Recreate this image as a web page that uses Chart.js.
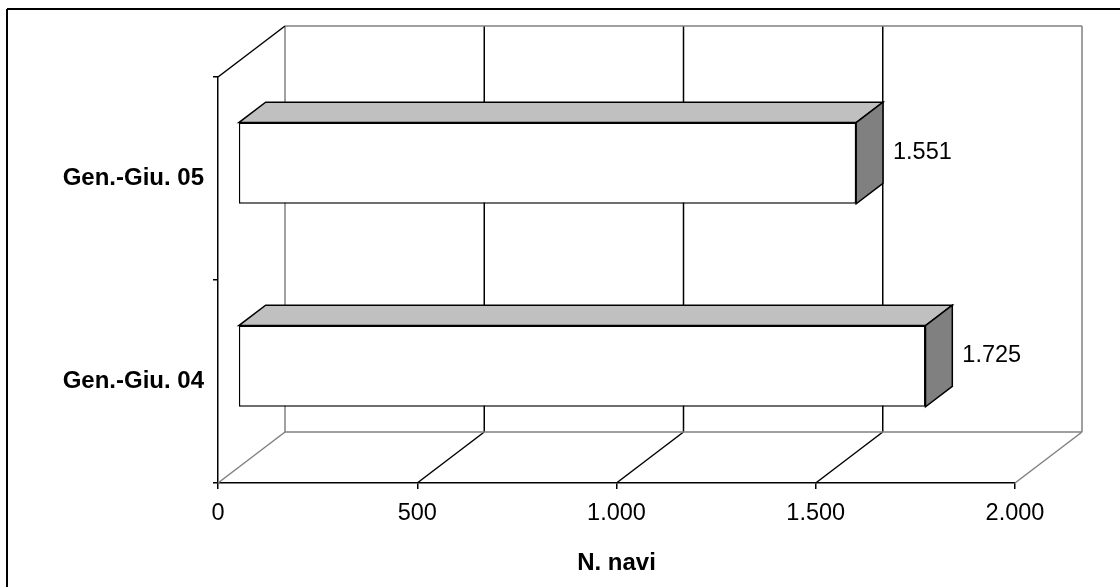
<!DOCTYPE html>
<html>
<head>
<meta charset="utf-8">
<script src="https://cdn.jsdelivr.net/npm/chart.js@4/dist/chart.umd.min.js"></script>
<style>
html, body { margin: 0; padding: 0; background: #fff; }
canvas { display: block; }
</style>
</head>
<body>
<canvas id="myChart" width="1120" height="587"></canvas>
<script>
// ships per period
var periods = ['Gen.-Giu. 05', 'Gen.-Giu. 04'];
var ships = [1551, 1725];
var xTicks = [0, 500, 1000, 1500, 2000];
var axisTitle = 'N. navi';

var FONT = '"Liberation Sans", Arial, sans-serif';

// oblique depth of the box, and where the bars sit inside it
var depth = { x: 67, y: -51 };
var barFront = 0.3;
var barBack = 0.7;

// italian thousands separator
function fmt(v) {
	return String(v).replace(/\B(?=(\d{3})+(?!\d))/g, '.');
}

function line(ctx, x1, y1, x2, y2, color) {
	ctx.strokeStyle = color;
	ctx.beginPath();
	ctx.moveTo(x1, y1);
	ctx.lineTo(x2, y2);
	ctx.stroke();
}

function poly(ctx, pts, fill) {
	ctx.beginPath();
	ctx.moveTo(pts[0][0], pts[0][1]);
	for(var i = 1; i < pts.length; i++) {
		ctx.lineTo(pts[i][0], pts[i][1]);
	}
	ctx.closePath();
	ctx.fillStyle = fill;
	ctx.fill();
	ctx.stroke();
}

// bar geometry pushed back into the box
function barBox(el) {
	var p = el.getProps(['x', 'y', 'base', 'height'], true);
	var fx = depth.x * barFront, fy = depth.y * barFront;
	return {
		left: p.base + fx,
		right: p.x + fx,
		top: p.y - p.height / 2 + fy,
		bottom: p.y + p.height / 2 + fy,
		dx: depth.x * (barBack - barFront),
		dy: depth.y * (barBack - barFront)
	};
}

var box3d = {
	id: 'box3d',
	beforeDraw: function(chart) {
		var ctx = chart.ctx;
		ctx.save();
		ctx.fillStyle = '#fff';
		ctx.fillRect(0, 0, chart.width, chart.height);
		// frame around the chart
		ctx.lineWidth = 2;
		line(ctx, 7, 9, chart.width, 9, '#000');
		line(ctx, 7, 9, 7, chart.height, '#000');
		ctx.restore();
	},
	beforeDatasetsDraw: function(chart) {
		var ctx = chart.ctx;
		var area = chart.chartArea;
		var xs = chart.scales.x;
		var dx = depth.x, dy = depth.y;
		ctx.save();
		ctx.lineWidth = 1.5;

		// back wall and floor
		xTicks.forEach(function(v, i) {
			var x = xs.getPixelForValue(v);
			var edge = (i === 0 || i === xTicks.length - 1);
			var c = edge ? '#808080' : '#000';
			line(ctx, x + dx, area.top + dy, x + dx, area.bottom + dy, c);
			line(ctx, x, area.bottom, x + dx, area.bottom + dy, c);
		});
		line(ctx, area.left + dx, area.top + dy, area.right + dx, area.top + dy, '#808080');
		line(ctx, area.left + dx, area.bottom + dy, area.right + dx, area.bottom + dy, '#808080');
		// top edge of the side wall
		line(ctx, area.left, area.top, area.left + dx, area.top + dy, '#000');

		// top and end faces of the bars
		ctx.strokeStyle = '#000';
		var meta = chart.getDatasetMeta(0);
		meta.data.forEach(function(el) {
			var b = barBox(el);
			poly(ctx, [[b.left, b.top], [b.right, b.top], [b.right + b.dx, b.top + b.dy], [b.left + b.dx, b.top + b.dy]], '#C0C0C0');
			poly(ctx, [[b.right, b.top], [b.right + b.dx, b.top + b.dy], [b.right + b.dx, b.bottom + b.dy], [b.right, b.bottom]], '#808080');
		});
		ctx.restore();
	},
	// front faces are the normal bars, shifted into the box
	beforeDatasetDraw: function(chart) {
		chart.ctx.save();
		chart.ctx.translate(depth.x * barFront, depth.y * barFront);
	},
	afterDatasetDraw: function(chart) {
		chart.ctx.restore();
	},
	afterDatasetsDraw: function(chart) {
		var ctx = chart.ctx;
		var meta = chart.getDatasetMeta(0);
		ctx.save();
		ctx.fillStyle = '#000';
		ctx.font = '23.5px ' + FONT;
		ctx.textAlign = 'left';
		ctx.textBaseline = 'middle';
		meta.data.forEach(function(el, i) {
			var b = barBox(el);
			var cy = (b.top + b.bottom) / 2 + b.dy / 2;
			ctx.fillText(fmt(ships[i]), b.right + b.dx + 10, cy);
		});
		ctx.restore();
	}
};

Chart.defaults.color = '#000';
Chart.defaults.font.family = FONT;

var ctx = document.getElementById('myChart');
var shipChart = new Chart(ctx, {
	type: 'bar',
	data: {
		labels: periods,
		datasets: [{
			data: ships,
			backgroundColor: '#fff',
			borderColor: '#000',
			borderWidth: 1.5,
			borderSkipped: false,
			categoryPercentage: 1,
			barPercentage: 0.4
		}]
	},
	options: {
		indexAxis: 'y',
		responsive: false,
		animation: false,
		devicePixelRatio: 1,
		layout: { padding: { top: 77, right: 105, left: 0, bottom: 0 } },
		plugins: {
			legend: { display: false },
			tooltip: { enabled: false }
		},
		scales: {
			x: {
				min: 0,
				max: 2000,
				afterBuildTicks: function(scale) {
					scale.ticks = xTicks.map(function(v) { return { value: v }; });
				},
				afterFit: function(scale) { scale.height = 104; },
				grid: { drawOnChartArea: false, tickLength: 6, color: '#000', lineWidth: 1.5 },
				border: { color: '#000', width: 1.5 },
				ticks: {
					font: { size: 23.5 },
					padding: 10,
					maxRotation: 0,
					callback: function(v) { return fmt(v); }
				},
				title: {
					display: true,
					text: axisTitle,
					font: { size: 24, weight: 'bold' },
					padding: { top: 0, bottom: 9 }
				}
			},
			y: {
				afterFit: function(scale) { scale.width = 218; },
				grid: { drawOnChartArea: false, tickLength: 5, color: '#000', lineWidth: 1.5 },
				border: { color: '#000', width: 1.5 },
				ticks: {
					font: { size: 24, weight: 'bold' },
					padding: 9
				}
			}
		}
	},
	plugins: [box3d]
});
</script>
</body>
</html>
